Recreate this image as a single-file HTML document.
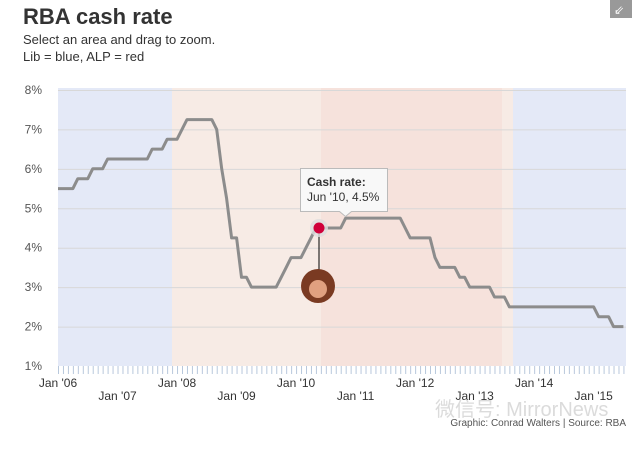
<!DOCTYPE html>
<html><head><meta charset="utf-8"><style>
body{margin:0;background:#fff;width:636px;height:444px;overflow:hidden;font-family:"Liberation Sans",Arial,sans-serif}
</style></head><body>
<svg id="s" width="636" height="444" xmlns="http://www.w3.org/2000/svg" font-family="Liberation Sans, Arial, sans-serif">
<text x="23" y="24" font-size="22" font-weight="bold" fill="#333">RBA cash rate</text>
<text x="23" y="44" font-size="13" fill="#333">Select an area and drag to zoom.</text>
<text x="23" y="61" font-size="13" fill="#333">Lib = blue, ALP = red</text>
<rect x="610" y="0" width="22" height="18" fill="#999"/>
<text x="614" y="14" font-size="12" fill="#fff">⇙</text>
<rect x="58" y="88" width="114" height="278" fill="#e4e9f7"/>
<rect x="172" y="88" width="149" height="278" fill="#f7ebe5"/>
<rect x="321" y="88" width="181" height="278" fill="#f6e2dc"/>
<rect x="502" y="88" width="11" height="278" fill="#f7ebe5"/>
<rect x="513" y="88" width="113" height="278" fill="#e4e9f7"/>
<g id="grid" stroke="#d8d8d8" stroke-width="1"></g>
<g id="yl" font-size="12" fill="#555" text-anchor="end"></g>
<g id="ticks" stroke="#b8c8dc" stroke-width="1"></g>
<g id="xl" font-size="12" fill="#333" text-anchor="middle"></g>
<polyline id="line" fill="none" stroke="#8c8c8c" stroke-width="3" stroke-linejoin="round"/>
<line x1="319" y1="228" x2="319" y2="272" stroke="#000" stroke-width="1"/>
<circle cx="319" cy="228" r="9" fill="#ddd" opacity="0.8"/>
<circle cx="319" cy="228" r="5.5" fill="#d0003a"/>
<circle cx="318" cy="286" r="17" fill="#7a3a22"/>
<circle cx="318" cy="289" r="9" fill="#e0a080"/>
<path d="M300.5 168.5 h87 v43 h-36 l-6 5 l-6 -5 h-39 z" fill="#f8f8f8" stroke="#bbb"/>
<text x="307" y="186" font-size="12" font-weight="bold" fill="#333">Cash rate:</text>
<text x="307" y="201" font-size="12" fill="#333">Jun '10, 4.5%</text>
<text x="435" y="416" font-size="20" fill="#ccc" opacity="0.7">微信号: MirrorNews</text>
<text x="626" y="426" font-size="10" fill="#555" text-anchor="end">Graphic: Conrad Walters | Source: RBA</text>
</svg>
<script>
var ns="http://www.w3.org/2000/svg";
function el(p,t,a,tx){var e=document.createElementNS(ns,t);for(var k in a)e.setAttribute(k,a[k]);if(tx)e.textContent=tx;document.getElementById(p).appendChild(e);}
function Y(v){return 366-(v-1)*39.43;}
function X(m){return 58+m*4.96;}
for(var v=2;v<=8;v++){el("grid","line",{x1:58,x2:626,y1:Y(v)+.5,y2:Y(v)+.5});}
for(var v=1;v<=8;v++){el("yl","text",{x:42,y:Y(v)+4},v+"%");}
for(var m=0;m<=114;m++){el("ticks","line",{x1:X(m)+.5,x2:X(m)+.5,y1:366,y2:374});}
for(var yr=0;yr<10;yr++){var lab="Jan '"+(yr<4?"0":"")+(6+yr);el("xl","text",{x:X(yr*12),y:yr%2?400:387},lab);}
var ch=[[0,5.5],[4,5.75],[7,6],[10,6.25],[19,6.5],[22,6.75],[25,7],[26,7.25],[32,7],[33,6],[34,5.25],[35,4.25],[37,3.25],[39,3],[45,3.25],[46,3.5],[47,3.75],[50,4],[51,4.25],[52,4.5],[58,4.75],[70,4.5],[71,4.25],[76,3.75],[77,3.5],[81,3.25],[83,3],[88,2.75],[91,2.5],[109,2.25],[112,2]];
var pts=[],v=5.5,i=0;
for(var m=0;m<=114;m++){while(i<ch.length&&ch[i][0]<=m){v=ch[i][1];i++;}pts.push(X(m).toFixed(1)+","+Y(v).toFixed(1));}
document.getElementById("line").setAttribute("points",pts.join(" "));
</script>
</body></html>
